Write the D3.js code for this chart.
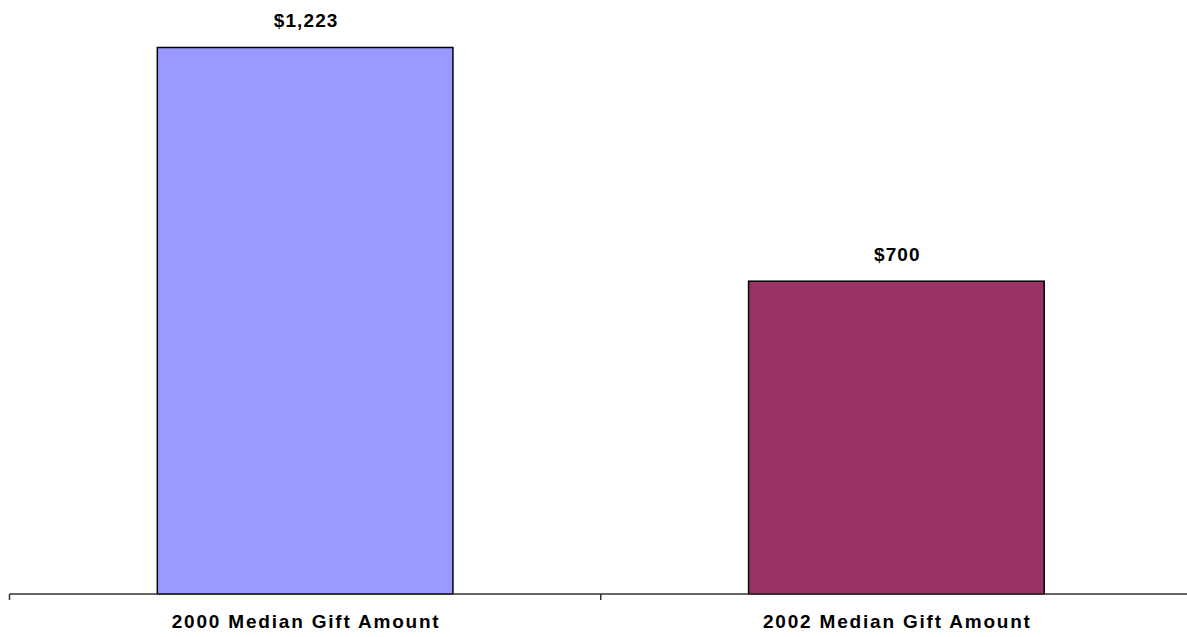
<!DOCTYPE html>
<html>
<head>
<meta charset="utf-8">
<script src="https://cdn.jsdelivr.net/npm/d3@7"></script>
<style>
  html, body { margin: 0; padding: 0; background: #fff; }
  svg { display: block; }
</style>
</head>
<body>
<svg id="chart" width="1187" height="637"></svg>
<script>
// Median gift amounts by survey year
const categories = ["2000 Median Gift Amount", "2002 Median Gift Amount"];
const values = [1223, 700];
const valueLabels = ["$1,223", "$700"];
const barColors = ["#9999FF", "#993366"];

const svg = d3.select("#chart");
const baseY = 594;

const x = d3.scaleBand()
  .domain(categories)
  .range([9.5, 1192])
  .paddingInner(0.5)
  .paddingOuter(0.25);

const y = d3.scaleLinear()
  .domain([0, 1223])
  .range([baseY, 47.5]);

// Bars
svg.append("g")
  .selectAll("rect")
  .data(values)
  .join("rect")
  .attr("x", (d, i) => x(categories[i]))
  .attr("y", d => y(d))
  .attr("width", x.bandwidth())
  .attr("height", d => baseY - y(d))
  .attr("fill", (d, i) => barColors[i])
  .attr("stroke", "#000")
  .attr("stroke-width", 1.5);

// Value labels above bars
svg.append("g")
  .selectAll("text")
  .data(values)
  .join("text")
  .attr("x", (d, i) => x(categories[i]) + x.bandwidth() / 2 + 1)
  .attr("y", d => y(d) - 20.5)
  .attr("text-anchor", "middle")
  .style("font-family", "'Liberation Sans', Arial, sans-serif")
  .style("font-weight", "bold")
  .style("font-size", "19px")
  .style("letter-spacing", "1.1px")
  .attr("fill", "#000")
  .text((d, i) => valueLabels[i]);

// Category axis
const gx = svg.append("g").attr("transform", `translate(0,${baseY})`);

gx.append("line")
  .attr("x1", 9.5).attr("x2", 1192)
  .attr("y1", 0).attr("y2", 0)
  .attr("stroke", "#333").attr("stroke-width", 1.5);

// Category boundary ticks
const step = x.step();
const firstBound = x(categories[0]) - x.paddingOuter() * step;
const bounds = d3.range(categories.length + 1).map(i => firstBound + i * step);
gx.selectAll(".bound")
  .data(bounds)
  .join("line")
  .attr("class", "bound")
  .attr("x1", d => d).attr("x2", d => d)
  .attr("y1", 0).attr("y2", 6)
  .attr("stroke", "#333").attr("stroke-width", 1.5);

gx.selectAll(".cat")
  .data(categories)
  .join("text")
  .attr("class", "cat")
  .attr("x", d => x(d) + x.bandwidth() / 2 + 1)
  .attr("y", 33.5)
  .attr("text-anchor", "middle")
  .style("font-family", "'Liberation Sans', Arial, sans-serif")
  .style("font-weight", "bold")
  .style("font-size", "19px")
  .style("letter-spacing", "1.8px")
  .attr("fill", "#000")
  .text(d => d);
</script>
</body>
</html>
